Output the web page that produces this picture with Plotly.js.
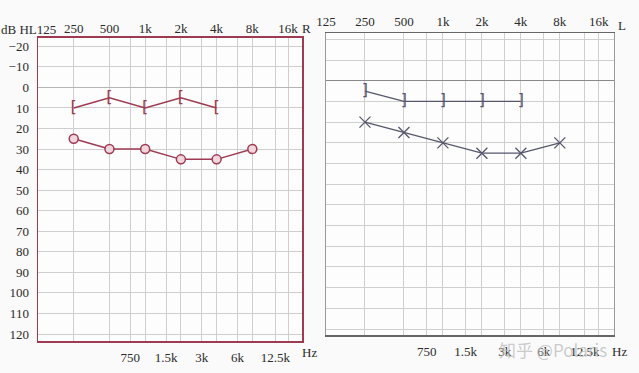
<!DOCTYPE html>
<html><head><meta charset="utf-8">
<script src="https://cdn.plot.ly/plotly-3.0.1.min.js"></script>
<style>html,body{margin:0;padding:0;background:#fafafa;}#chart{width:639px;height:373px;}</style>
</head><body><div id="chart"></div>
<script>
// Frequencies (Hz)
const octaveFreqs = [125, 250, 500, 1000, 2000, 4000, 8000, 16000];
const octaveLabelsR = ['', '250', '500', '1k', '2k', '4k', '8k', '16k']; // "125" is drawn with "dB HL"
const octaveLabelsL = ['125', '250', '500', '1k', '2k', '4k', '8k', '16k'];
const midFreqs = [750, 1500, 3000, 6000, 12500];
const midLabels = ['750', '1.5k', '3k', '6k', '12.5k'];
const dbTicks = [-20, -10, 0, 10, 20, 30, 40, 50, 60, 70, 80, 90, 100, 110, 120];

const airFreqs = [250, 500, 1000, 2000, 4000, 8000];
const boneFreqs = [250, 500, 1000, 2000, 4000];
// Right ear (R)
const rightAir = [25, 30, 30, 35, 35, 30];
const rightBone = [10, 5, 10, 5, 10];
// Left ear (L)
const leftAir = [20, 25, 30, 35, 35, 30];
const leftBone = [5, 10, 10, 10, 10];

const red = '#9e3a52';
const slate = '#55566c';
const grid = '#cfcfcf';
const txt = '#2b2b2b';
const serif = "'Liberation Serif', 'DejaVu Serif', serif";

const xr = [Math.log10(125), Math.log10(125 * Math.pow(2, 7.39))];

const traces = [
  {x: boneFreqs, y: rightBone, xaxis: 'x', yaxis: 'y', mode: 'lines+text',
   text: boneFreqs.map(() => '['), textposition: 'middle center',
   textfont: {family: 'DejaVu Sans', size: 16, color: red},
   line: {color: red, width: 1.5}, hoverinfo: 'skip'},
  {x: airFreqs, y: rightAir, xaxis: 'x', yaxis: 'y', mode: 'lines+markers',
   line: {color: red, width: 1.5},
   marker: {symbol: 'circle', size: 9, color: '#f1d6dd', line: {color: red, width: 1.5}}},
  {x: boneFreqs, y: leftBone, xaxis: 'x3', yaxis: 'y3', mode: 'lines+text',
   text: boneFreqs.map(() => ']'), textposition: 'middle center',
   textfont: {family: 'DejaVu Sans', size: 16, color: slate},
   line: {color: slate, width: 1.3}, hoverinfo: 'skip'},
  {x: airFreqs, y: leftAir, xaxis: 'x3', yaxis: 'y3', mode: 'lines+markers',
   line: {color: slate, width: 1.3},
   marker: {symbol: 'x-thin-open', size: 11, color: slate, line: {color: slate, width: 1.3}}},
  // invisible carriers so the top frequency axes are drawn
  {x: octaveFreqs, y: octaveFreqs.map(() => null), xaxis: 'x2', yaxis: 'y', mode: 'markers',
   marker: {opacity: 0}, hoverinfo: 'skip'},
  {x: octaveFreqs, y: octaveFreqs.map(() => null), xaxis: 'x4', yaxis: 'y3', mode: 'markers',
   marker: {opacity: 0}, hoverinfo: 'skip'}
];

function xBottom(domain, lineColor, anchor) {
  return {type: 'log', range: xr, domain: domain, anchor: anchor,
    tickvals: midFreqs, ticktext: midLabels, showgrid: true, gridcolor: grid, gridwidth: 1,
    showline: true, linecolor: lineColor, linewidth: 1.5, mirror: true,
    ticks: '', ticklabelstandoff: 4, zeroline: false,
    tickfont: {family: serif, size: 13, color: txt}, fixedrange: true};
}
function xTop(over, domain, anchor, labels, standoff) {
  return {type: 'log', range: xr, domain: domain, overlaying: over, side: 'top', anchor: anchor,
    tickvals: octaveFreqs, ticktext: labels, showgrid: true, gridcolor: grid, gridwidth: 1,
    showline: false, ticks: '', ticklabelstandoff: standoff,
    tickfont: {family: serif, size: 13, color: txt}, fixedrange: true};
}

function note(text, px, py, size) {
  return {text: text, x: px/639, y: 1 - py/373, xref: 'paper', yref: 'paper', showarrow: false,
    xanchor: 'center', yanchor: 'middle', font: {family: serif, size: size || 13, color: txt}};
}

const layout = {
  width: 639, height: 373,
  margin: {l: 0, r: 0, t: 0, b: 0},
  paper_bgcolor: '#fafafa', plot_bgcolor: '#fdfdfd',
  showlegend: false,
  xaxis: xBottom([38/639, 302/639], red, 'y'),
  xaxis2: xTop('x', [38/639, 302/639], 'y', octaveLabelsR, 1),
  yaxis: {range: [123.4, -24.3], domain: [1 - 341/373, 1 - 37.5/373], anchor: 'x',
    tickvals: dbTicks, showgrid: true, gridcolor: grid, zeroline: true, zerolinecolor: '#b5b5b5', zerolinewidth: 1,
    showline: true, linecolor: red, linewidth: 1.5, mirror: true, ticks: '', ticklabelstandoff: 5,
    tickfont: {family: serif, size: 13, color: txt}, fixedrange: true},
  xaxis3: xBottom([326/639, 614/639], '#666666', 'y3'),
  xaxis4: xTop('x3', [326/639, 614/639], 'y3', octaveLabelsL, 3),
  yaxis3: {range: [122.9, -23.1], domain: [1 - 335/373, 1 - 33/373], anchor: 'x3',
    tickvals: dbTicks, showticklabels: false, showgrid: true, gridcolor: grid,
    zeroline: true, zerolinecolor: '#8a8a8a', zerolinewidth: 1.2,
    showline: true, linecolor: '#9a9a9a', linewidth: 1, mirror: true, ticks: '', fixedrange: true},
  annotations: [
    note('dB HL125', 28, 29),
    note('R', 306, 28),
    note('Hz', 309, 352),
    note('L', 622, 25),
    note('Hz', 619, 351),
    {text: '知乎 @Polaris', x: 553/639, y: 1 - 349/373, xref: 'paper', yref: 'paper', showarrow: false,
     xanchor: 'center', yanchor: 'middle',
     font: {family: 'Noto Sans CJK SC', size: 17, color: 'rgba(190,190,190,0.8)'}}
  ]
};

Plotly.newPlot('chart', traces, layout, {displayModeBar: false, staticPlot: true});
</script></body></html>
